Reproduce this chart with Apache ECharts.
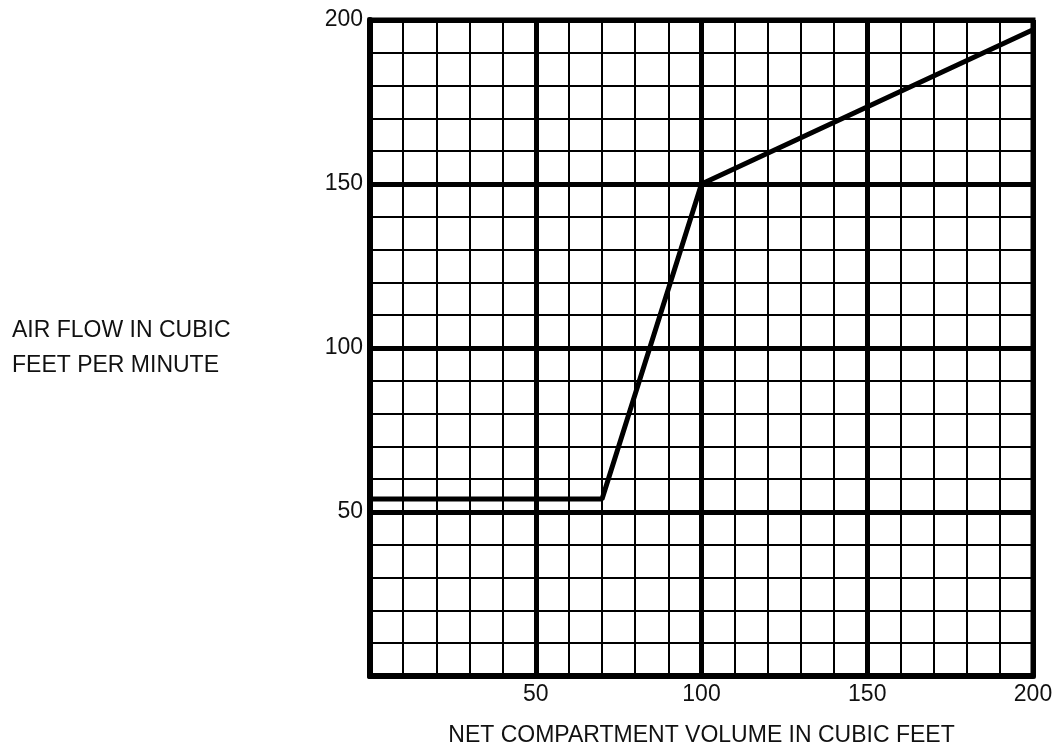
<!DOCTYPE html>
<html>
<head>
<meta charset="utf-8">
<script src="https://cdn.jsdelivr.net/npm/echarts@6/dist/echarts.min.js"></script>
<style>
  html, body { margin: 0; padding: 0; background: #fff; }
  #chart { width: 1059px; height: 752px; }
</style>
</head>
<body>
<div id="chart"></div>
<script>
// volume (cu ft) vs air flow (cfm)
const volume = [0, 70, 100, 200]
const airFlow = [54, 54, 150, 197]

const xName = 'NET COMPARTMENT VOLUME IN CUBIC FEET'
const yName = 'AIR FLOW IN CUBIC\nFEET PER MINUTE'

const axisMin = 0
const axisMax = 200
const minorStep = 10
const majorStep = 50

const font = 'Arial, "Liberation Sans", sans-serif'
const hideZero = v => (v === 0 ? '' : String(v))

const chart = echarts.init(document.getElementById('chart'), null, { renderer: 'canvas' })

chart.setOption({
  backgroundColor: '#fff',
  animation: false,
  grid: {
    left: 370,
    right: 26,
    top: 20,
    bottom: 72,
    show: true,
    borderColor: '#000',
    borderWidth: 5,
    backgroundColor: 'transparent'
  },
  xAxis: [
    {
      // minor grid + axis line
      type: 'value',
      min: axisMin,
      max: axisMax,
      interval: minorStep,
      axisLine: { show: true, lineStyle: { color: '#000', width: 6 }},
      axisTick: { show: false },
      axisLabel: { show: false },
      splitLine: { show: true, lineStyle: { color: '#000', width: 2 }},
      name: xName,
      nameLocation: 'middle',
      nameGap: 48,
      nameTextStyle: { color: '#111', fontSize: 23, fontFamily: font }
    },
    {
      // major grid + labels
      type: 'value',
      min: axisMin,
      max: axisMax,
      interval: majorStep,
      position: 'bottom',
      axisLine: { show: false },
      axisTick: { show: false },
      axisLabel: { margin: 7, color: '#111', fontSize: 23, fontFamily: font, formatter: hideZero },
      splitLine: { show: true, lineStyle: { color: '#000', width: 5 }}
    }
  ],
  yAxis: [
    {
      type: 'value',
      min: axisMin,
      max: axisMax,
      interval: minorStep,
      axisLine: { show: true, lineStyle: { color: '#000', width: 6 }},
      axisTick: { show: false },
      axisLabel: { show: false },
      splitLine: { show: true, lineStyle: { color: '#000', width: 2 }},
      name: yName,
      nameLocation: 'middle',
      nameRotate: 0,
      nameGap: 358,
      nameTextStyle: { color: '#111', fontSize: 23, fontFamily: font, align: 'left', lineHeight: 35 }
    },
    {
      type: 'value',
      min: axisMin,
      max: axisMax,
      interval: majorStep,
      position: 'left',
      axisLine: { show: false },
      axisTick: { show: false },
      axisLabel: { margin: 7, color: '#111', fontSize: 23, fontFamily: font, formatter: hideZero },
      splitLine: { show: true, lineStyle: { color: '#000', width: 5 }}
    }
  ],
  series: [
    {
      type: 'line',
      xAxisIndex: 0,
      yAxisIndex: 0,
      data: volume.map((v, i) => [v, airFlow[i]]),
      symbol: 'none',
      lineStyle: { color: '#000', width: 5 },
      z: 5
    }
  ]
})
</script>
</body>
</html>
